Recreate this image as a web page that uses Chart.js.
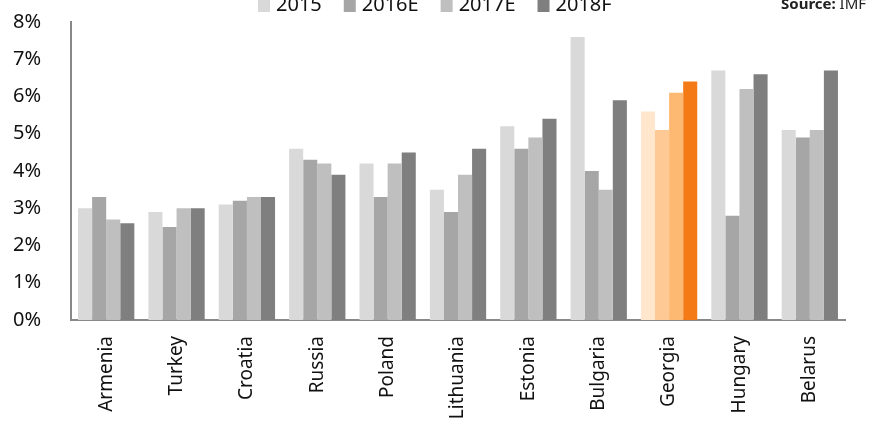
<!DOCTYPE html>
<html>
<head>
<meta charset="utf-8">
<style>
  html, body { margin: 0; padding: 0; background: #fff; overflow: hidden; }
  #wrap { position: relative; width: 887px; height: 431px; }
</style>
<script src="https://cdn.jsdelivr.net/npm/chart.js@4.4.0/dist/chart.umd.min.js"></script>
</head>
<body>
<div id="wrap"><canvas id="growth" width="887" height="431"></canvas></div>
<script>
'use strict';

const countries = ['Armenia', 'Turkey', 'Croatia', 'Russia', 'Poland', 'Lithuania',
    'Estonia', 'Bulgaria', 'Georgia', 'Hungary', 'Belarus'];
const seriesNames = ['2015', '2016E', '2017E', '2018F'];
const y2015 = [3.0, 2.9, 3.1, 4.6, 4.2, 3.5, 5.2, 7.6, 5.6, 6.7, 5.1];
const y2016 = [3.3, 2.5, 3.2, 4.3, 3.3, 2.9, 4.6, 4.0, 5.1, 2.8, 4.9];
const y2017 = [2.7, 3.0, 3.3, 4.2, 4.2, 3.9, 4.9, 3.5, 6.1, 6.2, 5.1];
const y2018 = [2.6, 3.0, 3.3, 3.9, 4.5, 4.6, 5.4, 5.9, 6.4, 6.6, 6.7];
const yTicks = [0, 1, 2, 3, 4, 5, 6, 7, 8];

const greys = ['#d9d9d9', '#a6a6a6', '#bfbfbf', '#7f7f7f'];
const oranges = ['#ffe6cc', '#fec995', '#fdb872', '#f47a16'];
const highlight = 'Georgia';

const FONT = '"Noto Sans", "Open Sans", sans-serif';

function colorsFor(i) {
    return countries.map(c => c === highlight ? oranges[i] : greys[i]);
}

const allValues = [y2015, y2016, y2017, y2018];

const datasets = seriesNames.map((name, i) => ({
    label: name,
    data: allValues[i],
    backgroundColor: colorsFor(i),
    borderWidth: 0,
    categoryPercentage: 0.8,
    barPercentage: 1.0
}));

// legend row and source note along the top edge
const topNotes = {
    id: 'topNotes',
    afterDraw(chart) {
        const ctx = chart.ctx;
        ctx.save();
        ctx.font = '20px ' + FONT;
        ctx.textBaseline = 'alphabetic';
        let x = 258;
        seriesNames.forEach((name, i) => {
            ctx.fillStyle = greys[i];
            ctx.fillRect(x, 0, 12, 12);
            ctx.fillStyle = '#111';
            ctx.fillText(name, x + 18, 11);
            x += 18 + ctx.measureText(name).width + 22;
        });
        ctx.fillStyle = '#222';
        ctx.font = 'bold 15px ' + FONT;
        ctx.fillText('Source:', 781, 9);
        const sw = ctx.measureText('Source: ').width;
        ctx.font = '15px ' + FONT;
        ctx.fillText('IMF', 781 + sw, 9);
        ctx.restore();
    }
};

new Chart(document.getElementById('growth'), {
    type: 'bar',
    data: { labels: countries, datasets: datasets },
    options: {
        responsive: false,
        animation: false,
        layout: { padding: { top: 22, right: 42, left: 0, bottom: 0 } },
        plugins: {
            legend: { display: false },
            tooltip: { enabled: false }
        },
        scales: {
            x: {
                grid: { display: false },
                border: { color: '#888', width: 2 },
                ticks: {
                    color: '#111',
                    font: { family: FONT, size: 19 },
                    minRotation: 90,
                    maxRotation: 90,
                    padding: 8,
                    autoSkip: false
                },
                afterFit(scale) {
                    scale.height = 111;
                    scale.paddingTop = 0;
                    scale.paddingLeft = 0;
                    scale.paddingRight = 0;
                }
            },
            y: {
                min: 0,
                max: 8,
                afterBuildTicks(scale) {
                    scale.ticks = yTicks.map(v => ({ value: v }));
                },
                grid: { display: false },
                border: { color: '#888', width: 2 },
                ticks: {
                    color: '#111',
                    font: { family: FONT, size: 20 },
                    padding: 22,
                    callback: v => v + '%'
                },
                afterFit(scale) {
                    scale.width = 71;
                    scale.paddingTop = 0;
                    scale.paddingBottom = 0;
                }
            }
        }
    },
    plugins: [topNotes]
});
</script>
</body>
</html>
